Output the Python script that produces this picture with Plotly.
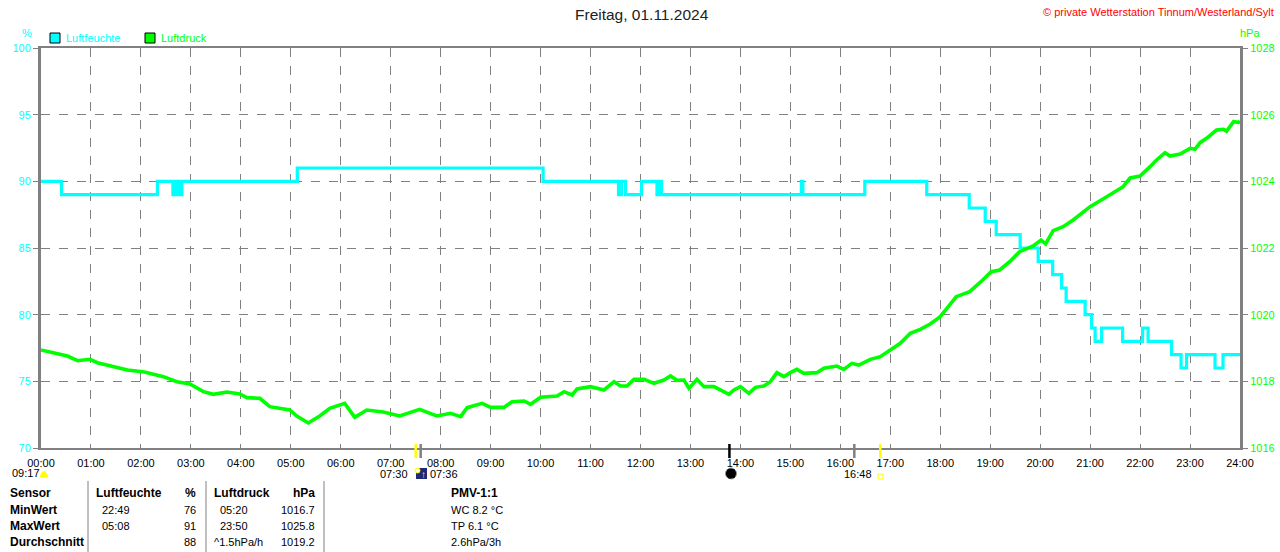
import plotly.graph_objects as go

# ---------------- data ----------------
hour_ticks = list(range(0, 25))
hour_labels = ["%02d:00" % h for h in hour_ticks]

hum_t = [0, 0.41, 2.33, 2.64, 2.70, 2.76, 2.82, 5.13, 10.05, 11.56, 11.62, 11.70, 12.02,
         12.33, 12.38, 12.42, 15.22, 15.25, 16.49, 17.73, 18.58, 18.9, 19.12, 19.6, 19.96,
         20.25, 20.43, 20.52, 20.9, 21.03, 21.1, 21.23, 21.65, 22.05, 22.16, 22.63, 22.82,
         22.93, 23.5, 23.66, 24]
hum_v = [90, 89, 90, 89, 90, 89, 90, 91, 90, 89, 90, 89, 90,
         89, 90, 89, 90, 89, 90, 89, 88, 87, 86, 85, 84,
         83, 82, 81, 80, 79, 78, 79, 78, 79, 78, 77, 76,
         77, 76, 77, 77]

pres_t = [0, 0.27, 0.53, 0.73, 0.98, 1.13, 1.4, 1.73, 2.07, 2.45, 2.72, 2.98, 3.25, 3.45,
          3.72, 3.98, 4.12, 4.38, 4.58, 4.85, 4.98, 5.12, 5.35, 5.58, 5.78, 6.08, 6.28,
          6.52, 6.85, 7.18, 7.58, 7.92, 8.2, 8.4, 8.53, 8.83, 9.0, 9.27, 9.43, 9.67, 9.8,
          10.0, 10.33, 10.47, 10.63, 10.73, 11.0, 11.27, 11.47, 11.6, 11.73, 11.87, 12.07,
          12.27, 12.47, 12.6, 12.73, 12.87, 12.97, 13.13, 13.27, 13.47, 13.6, 13.77, 13.87,
          14.0, 14.17, 14.3, 14.47, 14.6, 14.73, 14.87, 15.0, 15.13, 15.27, 15.53, 15.67,
          15.93, 16.07, 16.23, 16.37, 16.6, 16.8, 17.0, 17.2, 17.4, 17.6, 17.8, 18.0,
          18.32, 18.59, 18.85, 19.02, 19.19, 19.39, 19.59, 19.86, 20.02, 20.11, 20.26,
          20.46, 20.66, 20.86, 21.0, 21.2, 21.46, 21.66, 21.8, 22.0, 22.2, 22.33, 22.5,
          22.6, 22.8, 23.0, 23.1, 23.2, 23.33, 23.53, 23.67, 23.73, 23.87, 23.97, 24.0]
pres_v = [1018.94, 1018.86, 1018.76, 1018.62, 1018.66, 1018.56, 1018.46, 1018.34, 1018.28,
          1018.14, 1017.99, 1017.92, 1017.69, 1017.61, 1017.68, 1017.62, 1017.51, 1017.49,
          1017.24, 1017.16, 1017.14, 1016.96, 1016.75, 1016.96, 1017.19, 1017.34, 1016.92,
          1017.14, 1017.08, 1016.96, 1017.16, 1016.96, 1017.04, 1016.94, 1017.21, 1017.34,
          1017.22, 1017.22, 1017.39, 1017.41, 1017.31, 1017.52, 1017.56, 1017.69, 1017.59,
          1017.77, 1017.84, 1017.74, 1017.99, 1017.86, 1017.86, 1018.06, 1018.06, 1017.94,
          1018.04, 1018.16, 1018.03, 1018.04, 1017.79, 1018.06, 1017.84, 1017.84, 1017.74,
          1017.61, 1017.74, 1017.84, 1017.64, 1017.82, 1017.86, 1017.99, 1018.26, 1018.14,
          1018.26, 1018.36, 1018.24, 1018.26, 1018.39, 1018.46, 1018.36, 1018.54, 1018.49,
          1018.66, 1018.74, 1018.94, 1019.14, 1019.44, 1019.56, 1019.72, 1019.94, 1020.54,
          1020.69, 1021.04, 1021.29, 1021.34, 1021.59, 1021.89, 1022.06, 1022.24, 1022.12,
          1022.52, 1022.64, 1022.84, 1023.09, 1023.24, 1023.42, 1023.65, 1023.84, 1024.1,
          1024.16, 1024.44, 1024.64, 1024.86, 1024.76, 1024.82, 1024.99, 1024.96, 1025.16,
          1025.29, 1025.54, 1025.56, 1025.5, 1025.79, 1025.77, 1025.8]

# astronomical event markers on the time axis (hours)
event_t = [7.5, 7.6, 13.78, 16.28, 16.8]
event_colors = ["#FFFF00", "#808080", "#000000", "#808080", "#FFFF00"]

# summary table
table_rows = [
    ["Sensor", "Luftfeuchte", "%", "Luftdruck", "hPa", "PMV-1:1"],
    ["MinWert", "22:49", "76", "05:20", "1016.7", "WC 8.2 °C"],
    ["MaxWert", "05:08", "91", "23:50", "1025.8", "TP 6.1 °C"],
    ["Durchschnitt", "", "88", "^1.5hPa/h", "1019.2", "2.6hPa/3h"],
]

# ---------------- layout helpers ----------------
W, H = 1280, 552
L, R, T, B = 41, 40, 48, 104
PW, PH = W - L - R, H - T - B
FONT = "Liberation Sans, Arial, sans-serif"


def px(x):
    return (x - L) / PW


def py(y):
    return (H - B - y) / PH


CYAN = "#00FFFF"
GREEN = "#00FF00"
GRAY = "#808080"

fig = go.Figure()
fig.add_trace(go.Scatter(x=hum_t, y=hum_v, mode="lines", yaxis="y",
                         line=dict(color=CYAN, width=3.2, shape="hv"),
                         showlegend=False, hoverinfo="skip"))
fig.add_trace(go.Scatter(x=pres_t, y=pres_v, mode="lines", yaxis="y2",
                         line=dict(color=GREEN, width=3.6),
                         showlegend=False, hoverinfo="skip"))

annotations = []
shapes = []


def text(x, y, s, color="black", size=11, anchor="left", bold=False):
    if bold:
        s = "<b>" + s + "</b>"
    annotations.append(dict(x=px(x), y=py(y), xref="paper", yref="paper", text=s,
                            showarrow=False, xanchor=anchor, yanchor="middle",
                            font=dict(family=FONT, size=size, color=color)))


# title & credits
text(642, 15, "Freitag, 01.11.2024", color="#222222", size=15.5, anchor="center")
text(1276, 12, "© private Wetterstation Tinnum/Westerland/Sylt", color="#FF0000", size=11, anchor="right")
text(27, 33, "%", color=CYAN, size=11, anchor="center")
text(1250, 33, "hPa", color=GREEN, size=11, anchor="center")

# legend
for x0, col, lab in [(50, CYAN, "Luftfeuchte"), (145, GREEN, "Luftdruck")]:
    shapes.append(dict(type="rect", xref="paper", yref="paper", x0=px(x0), x1=px(x0 + 10),
                       y0=py(43), y1=py(33), fillcolor=col, line=dict(color="black", width=1)))
    text(x0 + 14, 38, lab, color=col, size=11)

# event ticks on the time axis
for t, c in zip(event_t, event_colors):
    shapes.append(dict(type="line", xref="x", yref="paper", x0=t, x1=t,
                       y0=py(458), y1=py(444), line=dict(color=c, width=2.5)))

# labels below time axis
text(10, 473, "09:17", size=11)
shapes.append(dict(type="path", xref="paper", yref="paper",
                   path="M %f,%f Q %f,%f %f,%f Z" % (px(40), py(477), px(44), py(466), px(48), py(477)),
                   fillcolor="#FFFF00", line=dict(color="#FFFF00", width=1)))
text(410, 474, "07:30", size=11, anchor="right")
shapes.append(dict(type="rect", xref="paper", yref="paper", x0=px(416), x1=px(427),
                   y0=py(479), y1=py(468), fillcolor="#1E2A78", line=dict(width=0)))
shapes.append(dict(type="circle", xref="paper", yref="paper", x0=px(415), x1=px(420),
                   y0=py(473), y1=py(468), fillcolor="#FFFFFF", line=dict(color="#FFFF00", width=1)))
text(423, 474, "↑", color="#FFFF00", size=10, anchor="center", bold=True)
text(428, 474, "07:36", size=11)
shapes.append(dict(type="circle", xref="paper", yref="paper", x0=px(725.5), x1=px(736.5),
                   y0=py(479), y1=py(468), fillcolor="#000000",
                   line=dict(color="#999999", width=1, dash="dot")))
text(874, 474, "16:48", size=11, anchor="right")
shapes.append(dict(type="rect", xref="paper", yref="paper", x0=px(878), x1=px(883),
                   y0=py(479), y1=py(474), fillcolor="white", line=dict(color="#FFFF00", width=1)))

# table separators
for xs in [88, 206, 324]:
    shapes.append(dict(type="line", xref="paper", yref="paper", x0=px(xs), x1=px(xs),
                       y0=py(552), y1=py(481), line=dict(color=GRAY, width=1)))

row_y = [493, 510, 526, 542]
col_x = [(8, "left"), (100, "left"), (198, "right"), (218, "left"), (317, "right"), (449, "left")]
for r, row in enumerate(table_rows):
    for c, val in enumerate(row):
        if not val:
            continue
        x, anc = col_x[c]
        if r == 0 and c in (1, 3):
            x = 94 if c == 1 else 212
        if r == 3 and c == 3:
            x = 212
        bold = (r == 0 or c == 0)
        text(x, row_y[r], val, size=12 if bold else 11, anchor=anc, bold=bold)

fig.update_layout(
    width=W, height=H, autosize=False,
    margin=dict(l=L, r=R, t=T, b=B, pad=0, autoexpand=False),
    paper_bgcolor="white", plot_bgcolor="white",
    font=dict(family=FONT, size=11, color="black"),
    showlegend=False,
    xaxis=dict(range=[0, 24], tickmode="array", tickvals=hour_ticks, ticktext=hour_labels,
               showgrid=True, gridcolor=GRAY, griddash="dash", gridwidth=1,
               showline=True, linecolor=GRAY, linewidth=2, mirror=True,
               ticks="outside", ticklen=4, tickcolor="rgba(0,0,0,0)",
               tickfont=dict(family=FONT, size=11, color="black"), zeroline=False,
               fixedrange=True, automargin=False),
    yaxis=dict(range=[70, 100], dtick=5, tick0=70,
               showgrid=True, gridcolor=GRAY, griddash="dash", gridwidth=1,
               showline=True, linecolor=GRAY, linewidth=3,
               ticks="outside", ticklen=5, tickcolor=GRAY, automargin=False,
               tickfont=dict(family=FONT, size=11, color=CYAN), zeroline=False),
    yaxis2=dict(range=[1016, 1028], dtick=2, tick0=1016, overlaying="y", side="right",
                showgrid=False, showline=True, linecolor=GRAY, linewidth=3,
                ticks="outside", ticklen=5, tickcolor=GRAY, automargin=False,
                tickfont=dict(family=FONT, size=11, color=GREEN), zeroline=False),
    annotations=annotations,
    shapes=shapes,
)

fig.write_html("out.html",
               config={"displayModeBar": False, "responsive": False},
               post_script="document.body.style.margin='0';document.body.style.overflow='hidden';")
